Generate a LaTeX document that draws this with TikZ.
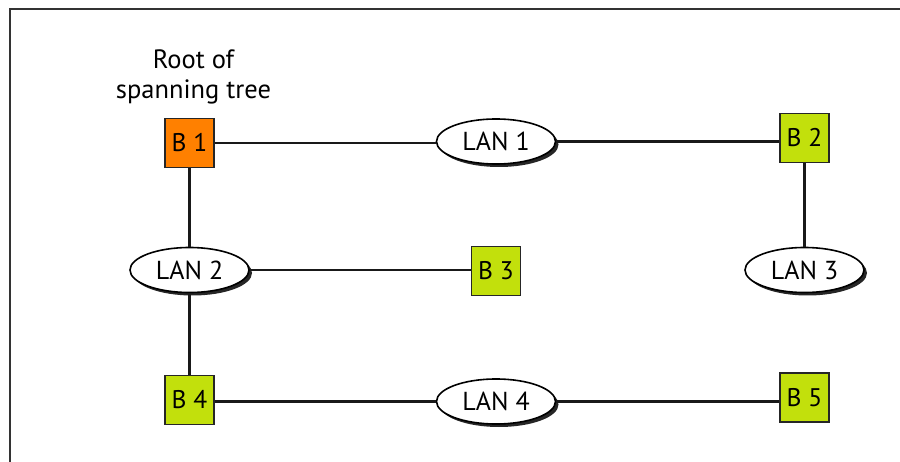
\documentclass[tikz,border=0pt]{standalone}
\usepackage{fontspec}
\setmainfont{PT Sans}
\usetikzlibrary{shapes.geometric,shadows}
\definecolor{rootorange}{RGB}{255,128,0}
\definecolor{bridgegreen}{RGB}{194,224,12}
\tikzset{
  bridge/.style={draw=black!85, line width=1.6pt, rectangle, minimum size=49pt,
    inner sep=0pt, fill=bridgegreen, font=\fontsize{25.5}{28}\selectfont},
  rootbridge/.style={bridge, fill=rootorange},
  lan/.style={draw=black, line width=1.6pt, ellipse, minimum width=119pt,
    minimum height=45pt, inner sep=0pt, fill=white,
    drop shadow={shadow xshift=3pt, shadow yshift=-3pt, fill=black, opacity=0.85},
    font=\fontsize{26}{30}\selectfont},
  link/.style={line width=2.4pt, black!90},
  frame/.style={line width=2pt, black!80}
}
\begin{document}
\begin{tikzpicture}[x=1pt, y=-1pt]
  \useasboundingbox (0,0) rectangle (900,462);
  % outer frame, open at right and bottom
  \draw[frame] (10,462) -- (10,9) -- (900,9);

  % bridges
  \node[rootbridge] (B1) at (189.5,143) {B 1};
  \node[bridge] (B2) at (804.5,138) {B 2};
  \node[bridge] (B3) at (496,271) {B 3};
  \node[bridge] (B4) at (189.5,400) {B 4};
  \node[bridge] (B5) at (804.5,397.5) {B 5};

  % LANs
  \node[lan] (L1) at (496,141.5) {LAN 1};
  \node[lan] (L2) at (189.5,270) {LAN 2};
  \node[lan] (L3) at (804.5,270) {LAN 3};
  \node[lan] (L4) at (496,401.5) {LAN 4};

  % caption over the root bridge
  \node[align=center, font=\fontsize{26.5}{30}\selectfont] (rootlabel) at (193.5,77) {Root of\\spanning tree};

  % links
  \draw[link] (B1.east) -- (B1.east -| L1.west);
  \draw[link] (L1.east) -- (L1.east -| B2.west);
  \draw[link] (B2.south) -- (L3.north);
  \draw[link] (B1.south) -- (L2.north);
  \draw[link] (L2.east) -- (L2.east -| B3.west);
  \draw[link] (L2.south) -- (B4.north);
  \draw[link] (B4.east |- L4.west) -- (L4.west);
  \draw[link] (L4.east) -- (L4.east -| B5.west);
\end{tikzpicture}
\end{document}
